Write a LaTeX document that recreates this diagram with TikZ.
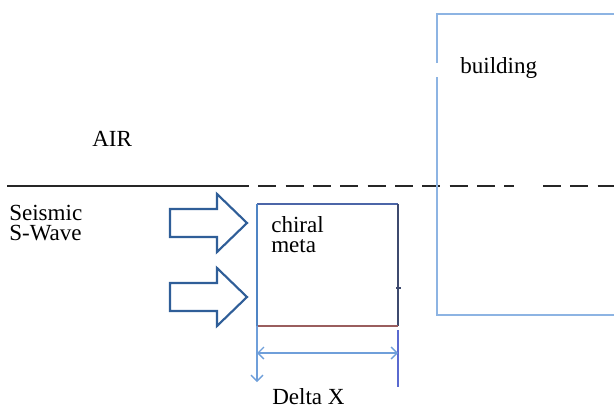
\documentclass[tikz,border=0pt]{standalone}
\usepackage{fontspec}
\setmainfont{Liberation Serif}
\usetikzlibrary{arrows.meta}
\definecolor{bldblue}{HTML}{8DB4E3}
\definecolor{arrblue}{HTML}{2F5E98}
\definecolor{dimblue}{HTML}{6F9FDA}
\definecolor{dimpurple}{HTML}{5A6AD0}
\definecolor{boxleft}{HTML}{4F84C4}
\definecolor{boxtop}{HTML}{4C66A8}
\definecolor{boxbot}{HTML}{9A5E5E}
\definecolor{boxright}{HTML}{3E4A6E}
\tikzset{
  lbl/.style={anchor=base west, inner sep=0pt, font=\fontsize{17.3}{15}\selectfont, align=left},
  wavearrow/.style={draw=arrblue, line width=1.6pt, fill=white, line join=miter},
  groundline/.style={line width=1.5pt, draw=black!85},
  chev/.tip={Straight Barb[length=4.5pt,width=9pt]},
}
\begin{document}
\begin{tikzpicture}[x=0.75pt,y=-0.75pt]
  \useasboundingbox (0,0) rectangle (614,407);

  % ground surface: solid on the left, dashed further on
  \coordinate (g0) at (7,186);
  \coordinate (g1) at (249,186);
  \coordinate (g2) at (514,186);
  \coordinate (g3) at (543,186);
  \coordinate (g4) at (614,186);
  \draw[groundline] (g0) -- (g1);
  \draw[groundline, dash pattern=on 13.5pt off 7pt, dash phase=-7pt] (g1) -- (g2);
  \draw[groundline, dash pattern=on 13.5pt off 7pt] (g3) -- (g4);

  % building outline (runs off the right side)
  \coordinate (b0) at (437,63);
  \coordinate (b1) at (437,14);
  \coordinate (b2) at (616,14);
  \coordinate (b3) at (437,77);
  \coordinate (b4) at (437,315);
  \coordinate (b5) at (616,315);
  \draw[bldblue, line width=1.5pt] (b0) -- (b1) -- (b2);
  \draw[bldblue, line width=1.5pt] (b3) -- (b4) -- (b5);

  % chiral metamaterial block
  \coordinate (m1) at (257,204);
  \coordinate (m2) at (398,204);
  \coordinate (m3) at (398,326);
  \coordinate (m4) at (257,326);
  \draw[boxtop, line width=1.5pt] (m1) -- (m2);
  \draw[boxright, line width=1.5pt] (m2) -- (m3);
  \draw[boxbot, line width=1.5pt] (m3) -- (m4);
  \draw[boxleft, line width=1.5pt] (m4) -- (m1);
  \coordinate (t1) at (396,288);
  \coordinate (t2) at (401,288);
  \draw[boxright, line width=0.9pt] (t1) -- (t2);

  % incoming wave arrows
  \foreach \cy in {223, 297} {
    \draw[wavearrow] (170,\cy-14) -- (217,\cy-14) -- (217,\cy-29)
      -- (247,\cy) -- (217,\cy+29) -- (217,\cy+14) -- (170,\cy+14) -- cycle;
  }

  % width dimension of the block
  \coordinate (d1) at (257,326);
  \coordinate (d2) at (257,382);
  \coordinate (d3) at (398,330);
  \coordinate (d4) at (398,387);
  \coordinate (h1) at (257,353);
  \coordinate (h2) at (398,353);
  \draw[dimblue, line width=1pt, -chev] (d1) -- (d2);
  \draw[dimpurple, line width=1.2pt] (d3) -- (d4);
  \draw[dimblue, line width=1pt, chev-chev] (h1) -- (h2);

  % labels
  \node[lbl] (air) at (92,146) {AIR};
  \node[lbl] (bld) at (460,73) {building};
  \node[lbl] (sw) at (9,240) {Seismic\\S-Wave};
  \node[lbl] (cm) at (271,252) {chiral\\meta};
  \node[lbl] (dx) at (272,404) {Delta X};
\end{tikzpicture}
\end{document}
